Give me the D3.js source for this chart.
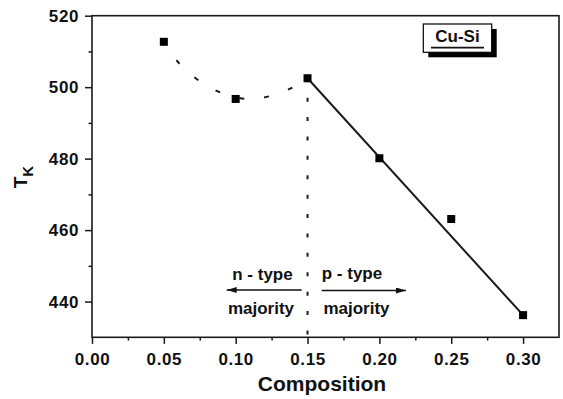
<!DOCTYPE html>
<html>
<head>
<meta charset="utf-8">
<script src="https://cdn.jsdelivr.net/npm/d3@7"></script>
<style>
  html, body { margin: 0; padding: 0; background: #fff; }
  svg { display: block; font-family: "Liberation Sans", Arial, sans-serif; }
</style>
</head>
<body>
<svg id="chart" width="563" height="399"></svg>
<script>
// Measured Kondo temperature against Si composition
const composition = [0.05, 0.10, 0.15, 0.20, 0.25, 0.30];
const tempK = [512.7, 496.7, 502.5, 480.1, 463.1, 436.2];

// Dashed guide curve on the n-type side
const nCurveComp = [0.05, 0.061, 0.076, 0.092, 0.108, 0.124, 0.140, 0.15];
const nCurveT = [512.7, 506.5, 501.4, 498.1, 496.7, 497.5, 500.0, 502.5];

// Straight line on the p-type side
const pLineComp = [0.15, 0.30];
const pLineT = [502.5, 436.2];

// Boundary between the two regimes
const boundaryComp = 0.15;

// Axis ticks
const xTicks = [0.00, 0.05, 0.10, 0.15, 0.20, 0.25, 0.30];
const xMinorTicks = [0.025, 0.075, 0.125, 0.175, 0.225, 0.275];
const yTicks = [440, 460, 480, 500, 520];
const yMinorTicks = [450, 470, 490, 510];

const svg = d3.select("#chart");
const plotLeft = 92, plotRight = 559, plotTop = 15.7, plotBottom = 337.3;

const x = d3.scaleLinear().domain([0, 0.325]).range([plotLeft, plotRight]);
const y = d3.scaleLinear().domain([430, 520]).range([plotBottom, plotTop]);

const ink = "#1a1a1a";

// Axes: major + minor ticks, outward
function styleAxis(g) {
  g.select(".domain").remove();
  g.selectAll(".tick line").attr("stroke", ink).attr("stroke-width", 1.5);
  g.selectAll("text")
    .attr("fill", "#111")
    .style("font-size", "17px")
    .style("font-weight", "bold")
    .style("letter-spacing", "0.6px");
}

svg.append("g")
  .attr("transform", `translate(0,${plotBottom})`)
  .call(d3.axisBottom(x).tickValues(xMinorTicks).tickSize(3.3).tickFormat(""))
  .call(styleAxis);

svg.append("g")
  .attr("transform", `translate(0,${plotBottom})`)
  .call(d3.axisBottom(x).tickValues(xTicks).tickSize(6.6).tickPadding(9.3)
    .tickFormat(d3.format(".2f")))
  .call(styleAxis);

svg.append("g")
  .attr("transform", `translate(${plotLeft},0)`)
  .call(d3.axisLeft(y).tickValues(yMinorTicks).tickSize(3.5).tickFormat(""))
  .call(styleAxis);

svg.append("g")
  .attr("transform", `translate(${plotLeft},0)`)
  .call(d3.axisLeft(y).tickValues(yTicks).tickSize(7).tickPadding(6)
    .tickFormat(d3.format("d")))
  .call(styleAxis);

// Plot frame
svg.append("rect")
  .attr("x", plotLeft).attr("y", plotTop)
  .attr("width", plotRight - plotLeft).attr("height", plotBottom - plotTop)
  .attr("fill", "none").attr("stroke", ink).attr("stroke-width", 1.6);

// Axis titles
svg.append("text")
  .attr("x", 322).attr("y", 390.7)
  .attr("text-anchor", "middle")
  .style("font-size", "21px").style("font-weight", "bold")
  .attr("fill", "#111")
  .text("Composition");

const yTitle = svg.append("text")
  .attr("transform", "translate(26.7,177) rotate(-90)")
  .attr("text-anchor", "middle")
  .style("font-weight", "bold")
  .attr("fill", "#111");
yTitle.append("tspan").style("font-size", "19px").text("T");
yTitle.append("tspan").style("font-size", "15px").attr("dy", 6.6).text("K");

// Vertical dotted boundary
svg.append("line")
  .attr("x1", x(boundaryComp)).attr("x2", x(boundaryComp))
  .attr("y1", y(pLineT[0])).attr("y2", plotBottom)
  .attr("stroke", ink).attr("stroke-width", 2)
  .attr("stroke-dasharray", "4,15.4");

// Dashed n-side curve
svg.append("path")
  .datum(nCurveComp.map((c, i) => [c, nCurveT[i]]))
  .attr("d", d3.line().x(d => x(d[0])).y(d => y(d[1])).curve(d3.curveCatmullRom))
  .attr("fill", "none").attr("stroke", ink).attr("stroke-width", 2)
  .attr("stroke-dasharray", "5,20").attr("stroke-dashoffset", 3);

// Solid p-side line
svg.append("path")
  .datum(pLineComp.map((c, i) => [c, pLineT[i]]))
  .attr("d", d3.line().x(d => x(d[0])).y(d => y(d[1])))
  .attr("fill", "none").attr("stroke", ink).attr("stroke-width", 2);

// Data markers
const ms = 8;
svg.append("g").selectAll("rect")
  .data(composition.map((c, i) => [c, tempK[i]]))
  .join("rect")
  .attr("x", d => x(d[0]) - ms / 2).attr("y", d => y(d[1]) - ms / 2)
  .attr("width", ms).attr("height", ms)
  .attr("fill", "#000");

// Regime annotations
const annot = svg.append("g")
  .style("font-size", "17px").style("font-weight", "bold").attr("fill", "#111");
annot.append("text").attr("x", 262.5).attr("y", 279.5).attr("text-anchor", "middle").text("n - type");
annot.append("text").attr("x", 261).attr("y", 314).attr("text-anchor", "middle").text("majority");
annot.append("text").attr("x", 352).attr("y", 278.5).attr("text-anchor", "middle").text("p - type");
annot.append("text").attr("x", 356.5).attr("y", 314).attr("text-anchor", "middle").text("majority");

// Arrows
const defs = svg.append("defs");
defs.append("marker")
  .attr("id", "arrow").attr("viewBox", "0 0 10 6")
  .attr("refX", 10).attr("refY", 3)
  .attr("markerUnits", "userSpaceOnUse")
  .attr("markerWidth", 10).attr("markerHeight", 6)
  .attr("orient", "auto")
  .append("path").attr("d", "M0,0 L10,3 L0,6 Z").attr("fill", "#111");

svg.append("line")
  .attr("x1", 301.7).attr("y1", 290).attr("x2", 226.7).attr("y2", 290)
  .attr("stroke", "#111").attr("stroke-width", 1.4).attr("marker-end", "url(#arrow)");
svg.append("line")
  .attr("x1", 321.7).attr("y1", 290.5).attr("x2", 406).attr("y2", 290.5)
  .attr("stroke", "#111").attr("stroke-width", 1.4).attr("marker-end", "url(#arrow)");

// Legend tag with drop shadow
const tag = svg.append("g");
tag.append("rect").attr("x", 428.3).attr("y", 29).attr("width", 68.4).attr("height", 28.3).attr("fill", "#000");
tag.append("rect").attr("x", 423.3).attr("y", 24).attr("width", 68.4).attr("height", 28.3)
  .attr("fill", "#fff").attr("stroke", "#000").attr("stroke-width", 1.2);
tag.append("text").attr("x", 457.5).attr("y", 42).attr("text-anchor", "middle")
  .style("font-size", "17px").style("font-weight", "bold").attr("fill", "#111").text("Cu-Si");
tag.append("line").attr("x1", 431).attr("x2", 484).attr("y1", 47.7).attr("y2", 47.7)
  .attr("stroke", "#111").attr("stroke-width", 1.8);
</script>
</body>
</html>
